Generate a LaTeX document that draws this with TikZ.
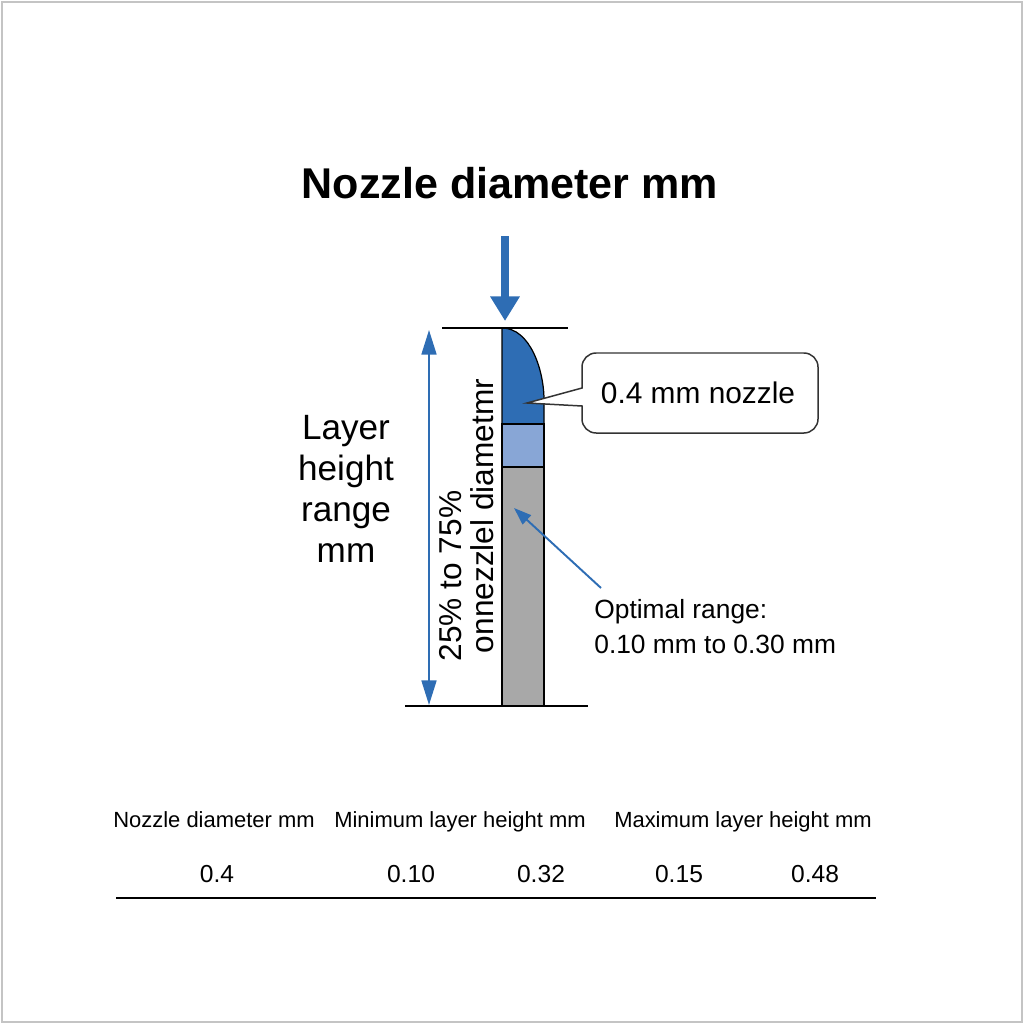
\documentclass[tikz,border=0pt]{standalone}
\usepackage{fontspec}
\setmainfont{Liberation Sans}
\usetikzlibrary{arrows.meta, calc}
\definecolor{nzblue}{HTML}{2E6DB4}
\definecolor{nzlight}{HTML}{88A6D6}
\definecolor{nzgray}{HTML}{A8A8A8}
\definecolor{nzframe}{HTML}{C4C4C4}

\begin{document}
\begin{tikzpicture}[x=0.02cm, y=-0.02cm,
  rule/.style={line width=0.85pt, black},
  part/.style={draw=black, line width=0.7pt},
  hdr/.style={anchor=base, font=\fontsize{12.5}{14}\selectfont},
  val/.style={anchor=base, font=\fontsize{14}{16}\selectfont},
  lhr/.style={anchor=base, font=\fontsize{20}{23}\selectfont},
  side/.style={anchor=base, rotate=90, font=\fontsize{18}{20}\selectfont}]
\useasboundingbox (0,0) rectangle (1024,1024);
\draw[nzframe, line width=1.2pt] (2,2) rectangle (1022,1022);
					%%
\coordinate (ftop) at (505,236);
\coordinate (ftip) at (505,321);
\coordinate (tl) at (442,328);
\coordinate (tr) at (568,328);
\coordinate (bl) at (405,706);
\coordinate (br) at (588,706);
\coordinate (up) at (429,330);
\coordinate (dn) at (429,705);
\coordinate (otail) at (601,588);
\coordinate (otip) at (514,508);

%% bar
\fill[nzblue] (502,328) .. controls (530,328) and (544,370) .. (544,400)
  -- (544,424) -- (502,424) -- cycle;
\draw[part] (502,328) .. controls (530,328) and (544,370) .. (544,400)
  -- (544,424) -- (502,424) -- cycle;
\draw[part, fill=nzlight] (502,424) rectangle (544,467);
\draw[part, fill=nzgray] (502,467) rectangle (544,706);

\draw[rule] (tl) -- (tr);
\draw[rule] (bl) -- (br);

\draw[nzblue, line width=4.5pt, -{Triangle[length=14pt, width=16pt]}] (ftop) -- (ftip);
\draw[nzblue, line width=1.1pt, {Triangle[length=14pt, width=8.5pt]}-{Triangle[length=14pt, width=8.5pt]}] (up) -- (dn);
\draw[nzblue, line width=1.1pt, -{Triangle[length=10pt, width=7pt]}] (otail) -- (otip);

%% callout
\draw[black!80, line width=0.85pt, fill=white] (582,406) [rounded corners=8pt]
  -- (582,433) -- (818,433) -- (818,353) -- (582,353) [sharp corners]
  -- (582,388) -- (527,403) -- cycle;
\node[anchor=base, font=\fontsize{17}{19}\selectfont] (nz) at (698,403) {0.4 mm nozzle};

\node[anchor=base, font=\fontsize{24.5}{28}\selectfont\bfseries] (title) at (510,198) {Nozzle diameter mm};

\foreach \w [count=\i] in {Layer, height, range, mm}
\node[lhr] (lh\i) at (346,{439+41*(\i-1)}) {\w};

\node[side] (pct) at (461,576) {25\% to 75\%};
\node[side] (dia) at (493,516) {onnezzlel diametmr};

\node[anchor=base west, inner sep=0pt, font=\fontsize{15}{17}\selectfont] (opt1) at (594,618) {Optimal range:};
\node[anchor=base west, inner sep=0pt, font=\fontsize{15}{17}\selectfont] (opt2) at (594,653) {0.10 mm to 0.30 mm};

%% table
\foreach \x/\t in {214/Nozzle diameter mm, 460/Minimum layer height mm, 743/Maximum layer height mm}
\node[hdr] (h\x) at (\x,827) {\t};
\foreach \x/\t in {217/0.4, 411/0.10, 541/0.32, 679/0.15, 815/0.48}
\node[val] (v\x) at (\x,882) {\t};
\draw[line width=1.1pt] (116,898) -- (876,898);
				\end{tikzpicture}
\end{document}
